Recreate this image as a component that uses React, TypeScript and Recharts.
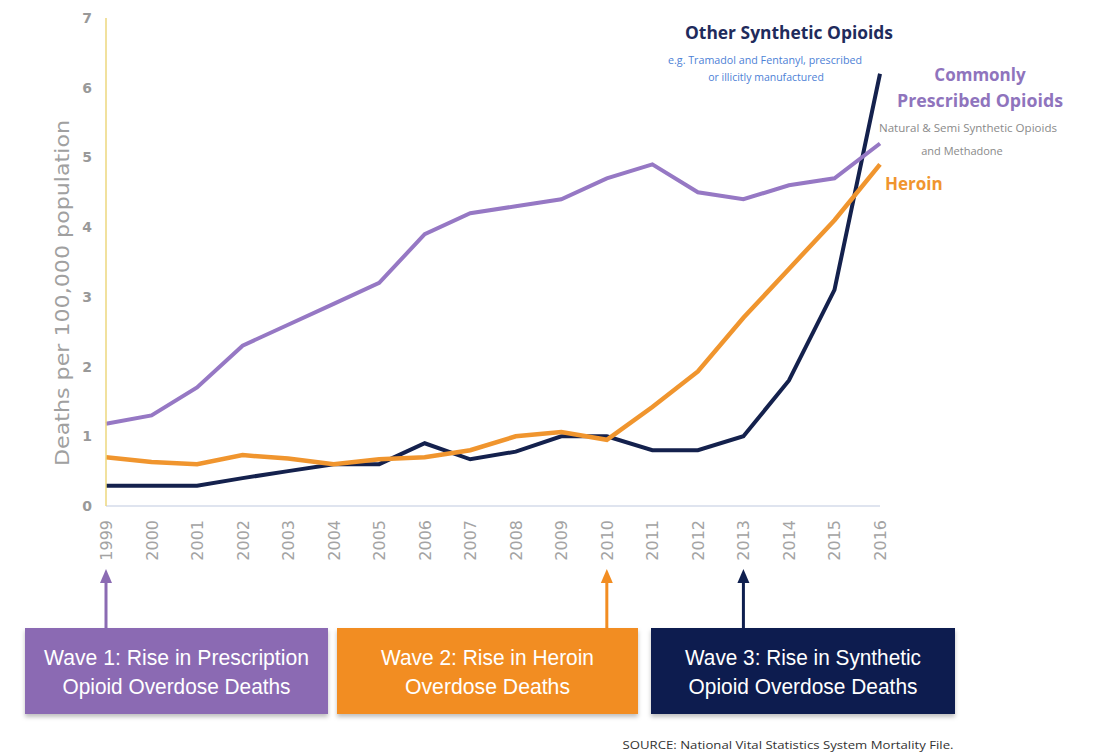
import { LineChart, Line, XAxis, YAxis } from "recharts";

const years = ["1999", "2000", "2001", "2002", "2003", "2004", "2005", "2006", "2007", "2008", "2009", "2010", "2011", "2012", "2013", "2014", "2015", "2016"];
const prescribed = [1.18, 1.3, 1.7, 2.3, 2.6, 2.9, 3.2, 3.9, 4.2, 4.3, 4.4, 4.7, 4.9, 4.5, 4.4, 4.6, 4.7, 5.2];
const heroin = [0.7, 0.63, 0.6, 0.73, 0.68, 0.6, 0.67, 0.7, 0.8, 1.0, 1.06, 0.95, 1.42, 1.93, 2.7, 3.4, 4.1, 4.9];
const synthetic = [0.29, 0.29, 0.29, 0.4, 0.5, 0.6, 0.6, 0.9, 0.67, 0.78, 1.0, 1.0, 0.8, 0.8, 1.0, 1.8, 3.1, 6.2];
const yTicks = [0, 1, 2, 3, 4, 5, 6, 7];

const waveYears = ["1999", "2010", "2013"];
const waveText = [
  ["Wave 1: Rise in Prescription", "Opioid Overdose Deaths"],
  ["Wave 2: Rise in Heroin", "Overdose Deaths"],
  ["Wave 3: Rise in Synthetic", "Opioid Overdose Deaths"],
];

const waveBoxes = [
  { color: "#8b6bb3", x: 25, w: 303, textW: [265, 228] },
  { color: "#f28d22", x: 337, w: 301, textW: [213, 165] },
  { color: "#0f1f4f", x: 651, w: 304, textW: [236, 229] },
];

const data = years.map((y, i) => ({ year: y, prescribed: prescribed[i], heroin: heroin[i], synthetic: synthetic[i] }));

const PLOT_LEFT = 106;
const PLOT_RIGHT = 880;
const yearX = (y: string) => PLOT_LEFT + (years.indexOf(y) * (PLOT_RIGHT - PLOT_LEFT)) / (years.length - 1);

const PURPLE = "#9678c4";
const ORANGE = "#f0952e";
const NAVY = "#14214d";

function YearTick(props: any) {
  const { x, y, payload } = props;
  const ty = y + 6;
  return (
    <text x={x} y={ty} transform={`rotate(-90, ${x}, ${ty})`} textAnchor="end" dy={6} fill="#a3a3a3" fontSize={16} fontFamily="DejaVu Sans">
      {payload.value}
    </text>
  );
}

export default function App() {
  return (
    <div style={{ position: "absolute", left: 0, top: 0, width: 1095, height: 754, background: "#fff" }}>
      <LineChart width={1095} height={754} data={data} margin={{ top: 18, right: 1095 - PLOT_RIGHT, bottom: 194, left: 0 }}>
        <XAxis
          dataKey="year"
          interval={0}
          height={54}
          tick={<YearTick />}
          tickLine={false}
          axisLine={{ stroke: "#dfe4ef", strokeWidth: 2 }}
          padding={{ left: 0, right: 0 }}
        />
        <YAxis
          domain={[0, 7]}
          ticks={yTicks}
          width={PLOT_LEFT}
          tickLine={false}
          axisLine={{ stroke: "#ecd77e", strokeWidth: 1.5 }}
          tick={{ fill: "#999", fontSize: 14, fontFamily: "DejaVu Sans", fontWeight: 700 }}
          tickMargin={8}
        />
        <Line dataKey="synthetic" stroke={NAVY} strokeWidth={4} dot={false} isAnimationActive={false} strokeLinejoin="miter" />
        <Line dataKey="heroin" stroke={ORANGE} strokeWidth={4.5} dot={false} isAnimationActive={false} strokeLinejoin="miter" />
        <Line dataKey="prescribed" stroke={PURPLE} strokeWidth={4} dot={false} isAnimationActive={false} strokeLinejoin="miter" />
      </LineChart>
      <svg width={1095} height={754} style={{ position: "absolute", left: 0, top: 0, pointerEvents: "none" }}>
        <text transform="translate(69, 293) rotate(-90)" textAnchor="middle" fill="#a0a0a0" fontSize={20} fontFamily="DejaVu Sans" textLength={346} lengthAdjust="spacingAndGlyphs">
          Deaths per 100,000 population
        </text>

        <g fontFamily="Open Sans, Lato, sans-serif" textAnchor="middle">
          <text x={789} y={39} fill="#1f2b5c" fontSize={17} fontWeight={700} textLength={208} lengthAdjust="spacingAndGlyphs">Other Synthetic Opioids</text>
          <text x={765} y={64} fill="#4d7fd6" fontSize={10.5} textLength={194} lengthAdjust="spacingAndGlyphs">e.g. Tramadol and Fentanyl, prescribed</text>
          <text x={766} y={81} fill="#4d7fd6" fontSize={10.5}>or illicitly manufactured</text>
          <text x={980} y={81} fill="#8f74bd" fontSize={17} fontWeight={700}>Commonly</text>
          <text x={980} y={107} fill="#8f74bd" fontSize={17.5} fontWeight={700} textLength={166} lengthAdjust="spacingAndGlyphs">Prescribed Opioids</text>
          <text x={968} y={132} fill="#8a8a8a" fontSize={11} textLength={178} lengthAdjust="spacingAndGlyphs">Natural &amp; Semi Synthetic Opioids</text>
          <text x={962} y={155} fill="#8a8a8a" fontSize={11}>and Methadone</text>
          <text x={885} y={190} fill="#f0952e" fontSize={17} fontWeight={700} textAnchor="start">Heroin</text>
        </g>

        <defs>
          <filter id="boxShadow" x="-5%" y="-10%" width="110%" height="130%">
            <feDropShadow dx={0} dy={3} stdDeviation={2} floodColor="#000" floodOpacity={0.25} />
          </filter>
        </defs>
        {waveYears.map((yr, k) => {
          const b = waveBoxes[k];
          const ax = yearX(yr);
          return (
            <g key={yr}>
              <line x1={ax} y1={580} x2={ax} y2={628} stroke={b.color} strokeWidth={3} />
              <polygon points={`${ax - 6},${583} ${ax + 6},${583} ${ax},${569}`} fill={b.color} />
              <rect x={b.x} y={628} width={b.w} height={86} fill={b.color} filter="url(#boxShadow)" />
              {waveText[k].map((line, i) => (
                <text
                  key={i}
                  x={b.x + b.w / 2}
                  y={665 + i * 29}
                  textAnchor="middle"
                  fill="#fff"
                  fontSize={22}
                  fontFamily="Liberation Sans, Arial"
                  textLength={b.textW[i]}
                  lengthAdjust="spacingAndGlyphs"
                >
                  {line}
                </text>
              ))}
            </g>
          );
        })}

        <text x={788} y={749} textAnchor="middle" fill="#333" fontSize={11} fontFamily="Open Sans, sans-serif" textLength={331} lengthAdjust="spacingAndGlyphs">
          SOURCE:  National Vital Statistics System Mortality File.
        </text>
      </svg>
    </div>
  );
}
